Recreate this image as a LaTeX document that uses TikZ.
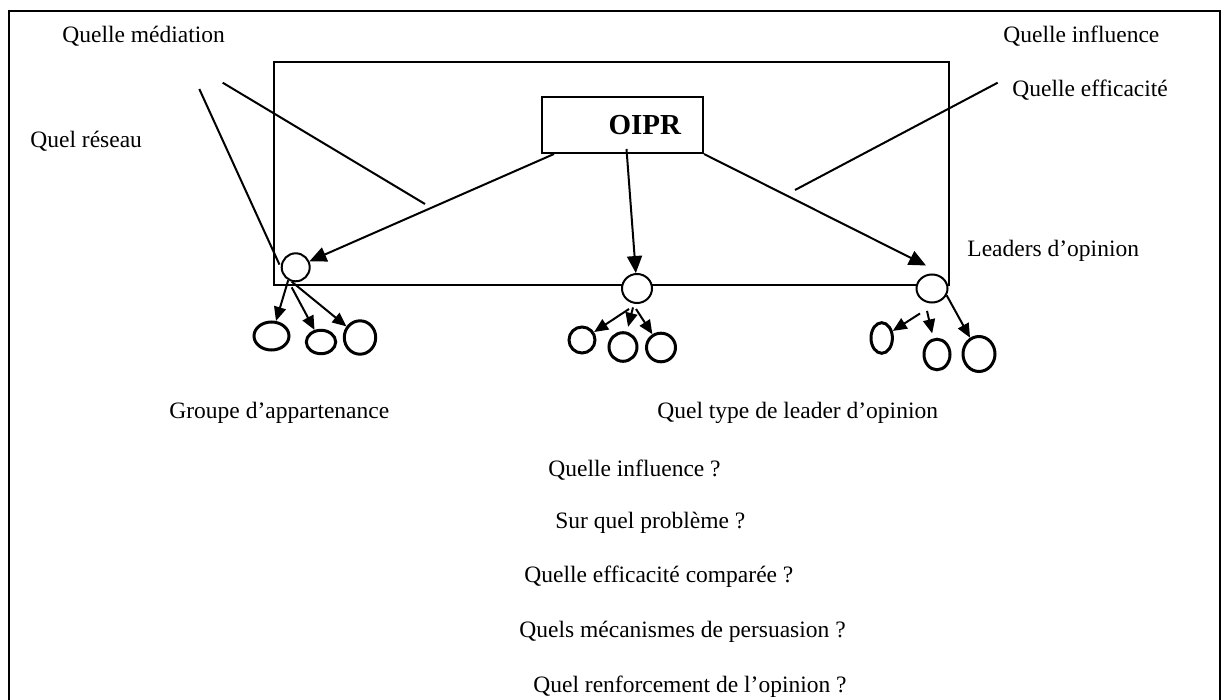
\documentclass[tikz,border=0pt]{standalone}
\usepackage{fontspec}
\setmainfont{Liberation Serif}
\usetikzlibrary{shapes.geometric,arrows.meta}

\tikzstyle{question} = [anchor=west, inner sep=0pt, font=\fontsize{11.75}{14}\selectfont]
\tikzstyle{source} = [rectangle, draw=black, line width=1pt, minimum width=80.5pt, minimum height=28pt, inner xsep=11pt, text width=58.5pt, align=right, font=\fontsize{14.5}{16}\selectfont\bfseries]
\tikzstyle{leader} = [ellipse, draw=black, fill=white, line width=1pt, inner sep=0pt]
\tikzstyle{member} = [ellipse, draw=black, line width=1.5pt, inner sep=0pt]
\tikzstyle{arrow} = [line width=1pt, -{Triangle[length=8.5pt, width=7.5pt]}]
\tikzstyle{smallarrow} = [line width=1pt, -{Triangle[length=7pt, width=6pt]}]
\tikzstyle{link} = [line width=1pt]

\begin{document}
\begin{tikzpicture}[x=0.5pt, y=-0.5pt]
		\useasboundingbox (0,0) rectangle (1227,700);
		\draw [line width=1.3pt] (9,710) -- (9,11) -- (1220,11) -- (1220,710);
		\draw [line width=1pt] (274,62) rectangle (949,285);
		
		\node (oipr) [source] at (622.5,125) {OIPR};
		
		\node (lead1) [leader, minimum width=14pt, minimum height=14pt] at (295.7,267.3) {};
		\node (lead2) [leader, minimum width=15pt, minimum height=14.5pt] at (637,288.5) {};
		\node (lead3) [leader, minimum width=15.5pt, minimum height=14pt] at (932,288.5) {};
		
		\node (g1) [member, minimum width=17.5pt, minimum height=14pt] at (271.5,336) {};
		\node (g2) [member, minimum width=14.7pt, minimum height=11.7pt] at (321,342) {};
		\node (g3) [member, minimum width=15.7pt, minimum height=16.7pt] at (360,337.5) {};
		\node (m1) [member, minimum width=13pt, minimum height=13pt] at (582,340) {};
		\node (m2) [member, minimum width=14pt, minimum height=14.3pt] at (623,347) {};
		\node (m3) [member, minimum width=14.5pt, minimum height=14.3pt] at (661,347.5) {};
		\node (r1) [member, minimum width=10.7pt, minimum height=15.3pt] at (881.7,338) {};
		\node (r2) [member, minimum width=13pt, minimum height=15.3pt] at (937,354.5) {};
		\node (r3) [member, minimum width=16pt, minimum height=17.5pt] at (979,354) {};
		
		\node (mediation) [question] at (62,36) {Quelle médiation};
		\node (influence) [question] at (1003,36) {Quelle influence};
		\node (efficacite) [question] at (1012,90) {Quelle efficacité};
		\node (reseau) [question] at (30,141) {Quel réseau};
		\node (leaders) [question] at (967,251) {Leaders d’opinion};
		\node (groupe) [question] at (169,413) {Groupe d’appartenance};
		\node (type) [question] at (657,413) {Quel type de leader d’opinion};
		\node (q1) [question] at (548,470) {Quelle influence ?};
		\node (q2) [question] at (555,523) {Sur quel problème ?};
		\node (q3) [question] at (524,577) {Quelle efficacité comparée ?};
		\node (q4) [question] at (519,632) {Quels mécanismes de persuasion ?};
		\node (q5) [question] at (533,687) {Quel renforcement de l’opinion ?};
		
		\coordinate (reseauend) at (199.3,89);
		\coordinate (mediationend) at (222.7,82.7);
		\coordinate (mediationtip) at (425,204);
		\coordinate (efficaciteend) at (997.7,82.7);
		\coordinate (efficacitetip) at (795,190);
		
		\draw [link, shorten >=1.5pt] (reseauend) -- (lead1.west);
		\draw [link] (mediationend) -- (mediationtip);
		\draw [link] (efficaciteend) -- (efficacitetip);
		
		\draw [arrow] ([xshift=6.5pt]oipr.south west) -- (lead1);
		\draw [arrow] ([shift={(2pt,2.5pt)}]oipr.south) -- (lead2);
		\draw [arrow] (oipr.south east) -- ([shift={(-3pt,4pt)}]lead3.north);
		
		\draw [smallarrow] (lead1.240) -- (g1);
		\draw [smallarrow] ([shift={(-2pt,-2.5pt)}]lead1.south) -- (g2);
		\draw [smallarrow] (lead1.255) -- (g3);
		\draw [smallarrow] ([shift={(-4pt,-2.5pt)}]lead2.south) -- (m1);
		\draw [smallarrow, shorten >=2.5pt] ([shift={(-2pt,-1.7pt)}]lead2.south) -- (m2);
		\draw [smallarrow] ([shift={(-0.5pt,-2.5pt)}]lead2.south) -- (m3);
		\draw [smallarrow] ([shift={(-6pt,-5pt)}]lead3.south) -- (r1);
		\draw [smallarrow, shorten >=2.5pt] ([shift={(-2.5pt,-3.7pt)}]lead3.south) -- (r2);
		\draw [smallarrow] (lead3.-25) -- (r3);
	
	\end{tikzpicture}
\end{document}
